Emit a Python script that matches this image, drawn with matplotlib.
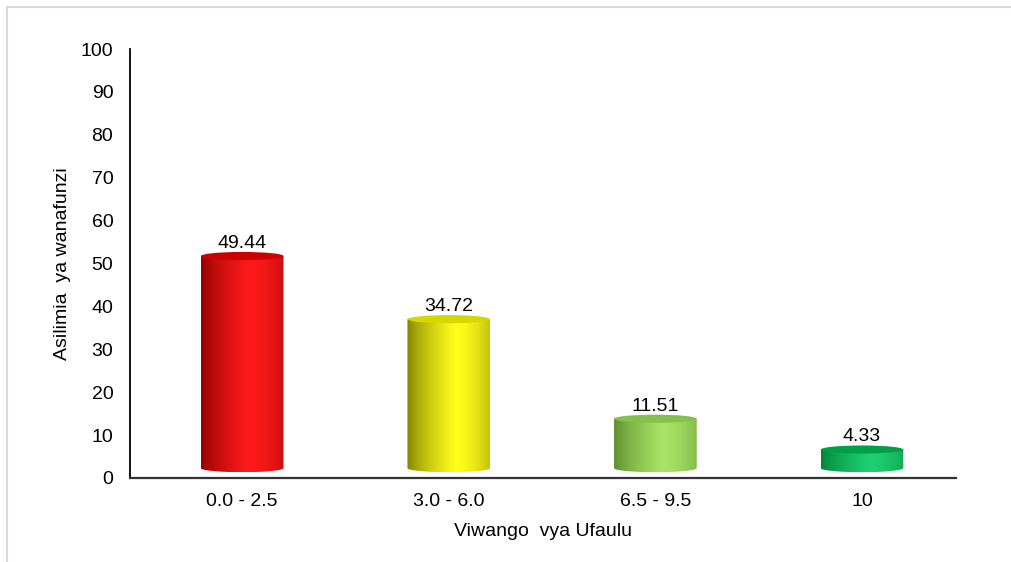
import numpy as np
import matplotlib.pyplot as plt
from matplotlib.path import Path
from matplotlib.patches import Ellipse, PathPatch
from matplotlib.colors import to_rgb
from matplotlib.lines import Line2D

plt.rcParams['font.family'] = ['Liberation Sans', 'DejaVu Sans']

# ── Datos ─────────────────────────────────────────────────────────────────────
categories = ['0.0 - 2.5', '3.0 - 6.0', '6.5 - 9.5', '10']
values = [49.44, 34.72, 11.51, 4.33]

# colores: (borde oscuro, brillo, cara superior)
shades = [
    ('#8e0000', '#ff1a1a', '#cc0000'),
    ('#7d7d00', '#ffff1a', '#d6d600'),
    ('#5b8a2e', '#a8e466', '#86c04c'),
    ('#00803a', '#1fd070', '#00a048'),
]

W, H = 1011, 562
fig = plt.figure(figsize=(W / 100, H / 100), dpi=100)
ax = fig.add_axes([130 / W, (H - 478) / H, (956 - 130) / W, (478 - 49) / H])

base = 2.3
bw = 0.40
eh = 1.9  # altura de la elipse en unidades de datos


def gradient(dark, light, n=256):
    d = np.array(to_rgb(dark))
    l = np.array(to_rgb(light))
    t = np.linspace(0, 1, n)
    peak = 0.58
    w = np.where(t < peak, (t / peak) ** 0.7, 1 - 0.45 * ((t - peak) / (1 - peak)) ** 1.6)
    img = d[None, :] + (l - d)[None, :] * w[:, None]
    return img[None, :, :]


for i, (v, (dark, light, topc)) in enumerate(zip(values, shades)):
    x0, x1 = i - bw / 2, i + bw / 2
    top = base + v
    th = np.linspace(np.pi, 2 * np.pi, 60)
    bx = i + bw / 2 * np.cos(th)
    by = base + eh / 2 * np.sin(th)
    verts = [(x0, top)] + list(zip(bx, by)) + [(x1, top), (x0, top)]
    codes = [Path.MOVETO] + [Path.LINETO] * (len(verts) - 2) + [Path.CLOSEPOLY]
    clip = PathPatch(Path(verts, codes), facecolor='none', edgecolor='none')
    ax.add_patch(clip)
    im = ax.imshow(gradient(dark, light), extent=[x0, x1, base - eh / 2, top],
                   aspect='auto', interpolation='bicubic', zorder=2)
    im.set_clip_path(clip)
    ax.add_patch(Ellipse((i, top), bw, eh, facecolor=topc, edgecolor='none', zorder=3))
    ax.text(i, top + 1.9, f'{v:.2f}', ha='center', va='baseline', fontsize=14, zorder=4)

ax.set_xlim(-0.543, 3.455)
ax.set_ylim(0, 100)
ax.set_yticks(np.arange(0, 101, 10))
ax.set_xticks(range(len(categories)))
ax.set_xticklabels(categories)
ax.tick_params(axis='both', length=0, labelsize=14)
ax.tick_params(axis='y', pad=12)
ax.tick_params(axis='x', pad=11)
for s in ['top', 'right']:
    ax.spines[s].set_visible(False)
ax.spines['left'].set_linewidth(1.3)
ax.spines['bottom'].set_linewidth(1.6)
ax.spines['bottom'].set_color('#333333')

ax.set_xlabel('Viwango  vya Ufaulu', fontsize=14, labelpad=9)
ax.set_ylabel('Asilimia  ya wanafunzi', fontsize=14, labelpad=7)

# marco gris
fig.add_artist(Line2D([7 / W, 1], [1 - 7 / H, 1 - 7 / H], color='#d9d9d9', lw=1.5,
                      transform=fig.transFigure))
fig.add_artist(Line2D([7 / W, 7 / W], [0, 1 - 7 / H], color='#d9d9d9', lw=1.5,
                      transform=fig.transFigure))

fig.savefig('out.png', dpi=100)
